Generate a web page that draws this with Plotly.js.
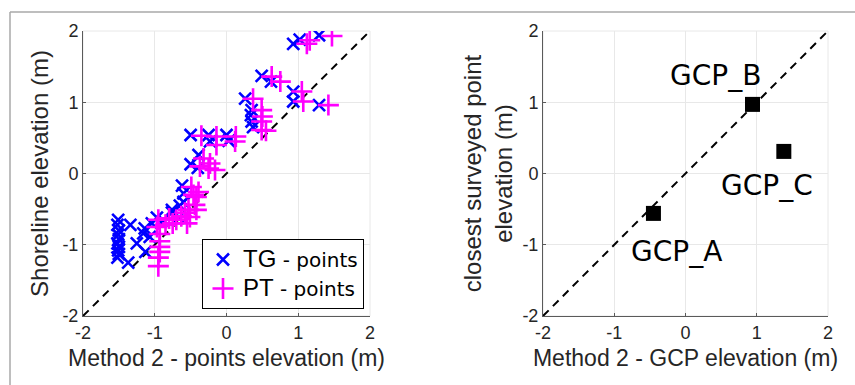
<!DOCTYPE html>
<html>
<head>
<meta charset="utf-8">
<script src="https://cdn.plot.ly/plotly-3.0.1.min.js"></script>
<style>html,body{margin:0;padding:0;background:#fff;}#chart{width:855px;height:385px;}</style>
</head>
<body>
<div id="chart"></div>
<script>
// ---- data ----
const tgX = [-1.51,-1.52,-1.50,-1.51,-1.50,-1.52,-1.50,-1.51,-1.50,-1.52,
             -1.34,-1.37,-1.16,-1.25,-1.13,-1.14,-1.04,-1.07,-0.97,-0.88,
             -0.76,-0.67,-0.76,-0.65,-0.60,-0.60,-0.62,-0.39,-0.50,-0.40,
             -0.50,-0.25,-0.23,0.00,0.03,0.26,0.35,0.34,0.35,0.37,
             0.49,0.62,0.93,0.93,1.29,0.93,1.02,1.29];
const tgY = [-0.65,-0.72,-0.80,-0.86,-0.92,-0.98,-1.03,-1.08,-1.13,-1.18,
             -0.72,-1.25,-0.84,-0.98,-1.10,-0.77,-0.70,-0.89,-0.62,-0.66,
             -0.55,-0.62,-0.51,-0.45,-0.40,-0.28,-0.17,0.26,0.13,0.08,
             0.54,0.54,0.45,0.54,0.46,1.05,0.89,0.82,0.73,0.65,
             1.37,1.29,1.15,1.01,0.96,1.82,1.88,1.94];
const ptX = [-0.95,-0.97,-0.93,-0.93,-0.93,-0.93,-0.95,-0.95,-0.85,-0.80,
             -0.75,-0.70,-0.63,-0.58,-0.53,-0.44,-0.42,-0.51,-0.55,-0.46,
             -0.39,-0.49,-0.42,-0.37,-0.25,-0.16,-0.32,-0.23,-0.35,-0.14,
             -0.14,0.13,0.12,0.37,0.49,0.50,0.49,0.49,0.55,0.63,
             0.75,1.05,1.07,1.42,1.12,1.16,1.47];
const ptY = [-0.65,-0.75,-0.85,-0.95,-1.03,-1.10,-1.18,-1.30,-0.72,-0.63,
             -0.70,-0.65,-0.60,-0.55,-0.51,-0.44,-0.51,-0.61,-0.70,-0.30,
             -0.26,-0.19,-0.33,0.10,0.07,0.05,0.21,0.14,0.53,0.52,
             0.40,0.52,0.45,1.05,0.89,0.80,0.73,0.61,0.60,1.36,
             1.29,1.15,1.01,0.96,1.82,1.87,1.93];
const gcpNames = ['GCP_A','GCP_B','GCP_C'];
const gcpX = [-0.45, 0.94, 1.38];
const gcpY = [-0.56, 0.97, 0.31];
const gcpLabelX = [-0.12, 0.42, 1.14];
const gcpLabelY = [-1.10, 1.37, -0.17];
const oneToOne = [-2, 2];
const tickVals = [-2,-1,0,1,2];
const tickText = ['-2','-1','0','1','2'];

const SANS = '"Liberation Sans", Arial, sans-serif';
const DJ = '"DejaVu Sans", sans-serif';

const traces = [
  {x: oneToOne, y: oneToOne, mode: 'lines', xaxis: 'x', yaxis: 'y', showlegend: false,
   line: {color: '#000', width: 2, dash: '8px,6px'}, hoverinfo: 'skip'},
  {x: tgX, y: tgY, mode: 'markers', name: '<span style="font-family:Liberation Sans;font-size:24px">TG</span> - points',
   xaxis: 'x', yaxis: 'y',
   marker: {symbol: 'x-thin', size: 12, color: '#0000ff', line: {color: '#0000ff', width: 2.6}}},
  {x: ptX, y: ptY, mode: 'markers', name: '<span style="font-family:Liberation Sans;font-size:24px">PT</span> - points',
   xaxis: 'x', yaxis: 'y',
   marker: {symbol: 'cross-thin', size: 15, color: '#ff00ff', line: {color: '#ff00ff', width: 2.6}}},
  {x: oneToOne, y: oneToOne, mode: 'lines', xaxis: 'x2', yaxis: 'y2', showlegend: false,
   line: {color: '#000', width: 2, dash: '8px,6px'}, hoverinfo: 'skip'},
  {x: gcpX, y: gcpY, mode: 'markers', xaxis: 'x2', yaxis: 'y2', showlegend: false,
   text: gcpNames, marker: {symbol: 'square', size: 15, color: '#000'}}
];

const axCommon = {
  range: [-2, 2], tickvals: tickVals, ticktext: tickText, showgrid: true,
  gridcolor: '#e8e8e8', gridwidth: 1, zeroline: false, showline: true,
  linecolor: '#5a5a5a', linewidth: 1, ticks: 'inside', ticklen: 3, tickcolor: '#5a5a5a',
  tickfont: {family: SANS, size: 18, color: '#262626'}, fixedrange: true
};

const annotations = gcpNames.map((n, i) => ({
  x: gcpLabelX[i], y: gcpLabelY[i], xref: 'x2', yref: 'y2', text: n, showarrow: false,
  font: {family: DJ, size: 28, color: '#000'}
}));

const layout = {
  width: 855, height: 385,
  margin: {l: 0, r: 0, t: 0, b: 0},
  paper_bgcolor: '#fff', plot_bgcolor: '#fff',
  showlegend: true,
  legend: {x: 364/855, xanchor: 'right', y: 1 - 309/385, yanchor: 'bottom',
           bordercolor: '#000', borderwidth: 1, bgcolor: '#fff',
           font: {family: DJ, size: 20, color: '#000'}, itemsizing: 'trace', tracegroupgap: 0},
  xaxis: Object.assign({}, axCommon, {domain: [83/855, 370/855], anchor: 'y',
    title: {text: 'Method 2 - points elevation (m)', font: {family: SANS, size: 23, color: '#262626'}, standoff: 8}}),
  yaxis: Object.assign({}, axCommon, {domain: [1 - 316/385, 1 - 31/385], anchor: 'x',
    title: {text: 'Shoreline elevation (m)', font: {family: SANS, size: 24, color: '#262626'}, standoff: 6}}),
  xaxis2: Object.assign({}, axCommon, {domain: [543/855, 828/855], anchor: 'y2',
    title: {text: 'Method 2 - GCP elevation (m)', font: {family: SANS, size: 23, color: '#262626'}, standoff: 8}}),
  yaxis2: Object.assign({}, axCommon, {domain: [1 - 316/385, 1 - 31/385], anchor: 'x2',
    title: {text: 'closest surveyed point<br>elevation (m)', font: {family: SANS, size: 24, color: '#262626'}, standoff: 2}}),
  annotations: annotations,
  shapes: [
    {type: 'line', xref: 'paper', yref: 'paper', x0: 10/855, x1: 1, y0: 1 - 12/385, y1: 1 - 12/385,
     line: {color: '#a8a8a8', width: 1.5}},
    {type: 'line', xref: 'paper', yref: 'paper', x0: 10/855, x1: 10/855, y0: 0, y1: 1 - 12/385,
     line: {color: '#a8a8a8', width: 1.5}},
    {type: 'rect', xref: 'x domain', yref: 'y domain', x0: 0, x1: 1, y0: 0, y1: 1,
     line: {color: '#e8e8e8', width: 1}, layer: 'below'},
    {type: 'rect', xref: 'x2 domain', yref: 'y2 domain', x0: 0, x1: 1, y0: 0, y1: 1,
     line: {color: '#e8e8e8', width: 1}, layer: 'below'}
  ]
};

Plotly.newPlot('chart', traces, layout, {displayModeBar: false, staticPlot: true});
</script>
</body>
</html>
